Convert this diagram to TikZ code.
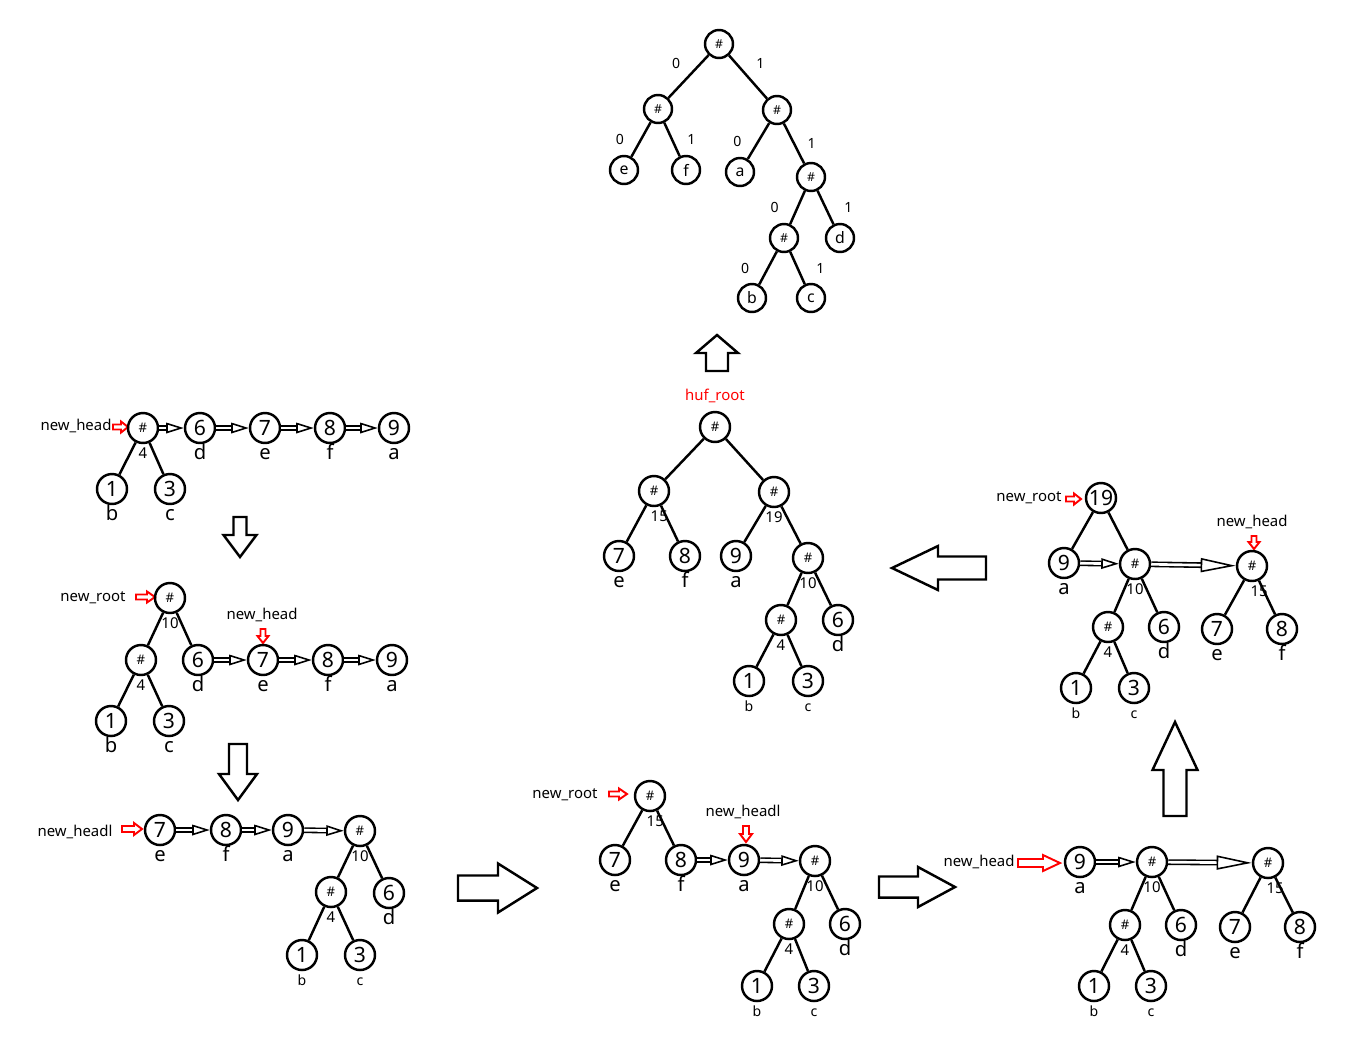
\documentclass[tikz,border=0pt]{standalone}
\usepackage{fontspec}
\setmainfont{Noto Sans}
\usetikzlibrary{arrows.meta}

\tikzset{
  nd/.style={circle, draw, line width=1.4pt, minimum size=0.6cm, inner sep=0pt,
    font=\fontsize{12}{13}\selectfont},
  hs/.style={nd, font=\fontsize{7.5}{9}\selectfont},
  sm/.style={nd, minimum size=0.56cm, font=\fontsize{9}{10}\selectfont},
  wt/.style={font=\fontsize{8.5}{9}\selectfont, inner sep=0pt, text height=6pt, text depth=0pt, yshift=-1.8pt},
  lab/.style={font=\fontsize{11.5}{12}\selectfont, inner sep=0pt, text height=8pt, text depth=2pt, yshift=-0.5pt},
  tiny/.style={font=\fontsize{8}{9}\selectfont, inner sep=0pt, text height=6pt, text depth=0pt, yshift=-2pt},
  txt/.style={font=\fontsize{8.5}{10}\selectfont, inner sep=0pt},
  bit/.style={font=\fontsize{8}{9}\selectfont, inner sep=1pt},
  edge/.style={line width=1.4pt},
  link/.style={double, double distance=1.5pt, line width=0.9pt,
    -{Triangle[open, length=10pt, width=6pt]}},
  longlink/.style={link, -{Triangle[open, length=20pt, width=8pt]}},
  big/.style={draw, line width=1.4pt, fill=white, line join=miter},
  ptr/.style={draw=red, line width=1.1pt, fill=white},
}

% hollow block arrow: style, tail, angle, length, shaft, head width, head length
\newcommand{\blockarrow}[7]{%
  \draw[#1, shift={#2}, rotate=#3] (0,-#5/2) -- ({#4-#7},-#5/2) -- ({#4-#7},-#6/2)
    -- (#4,0) -- ({#4-#7},#6/2) -- ({#4-#7},#5/2) -- (0,#5/2) -- cycle;}

\begin{document}
\begin{tikzpicture}[x=0.02cm, y=-0.02cm]
  \useasboundingbox (0,0) rectangle (1368,1042);

  % ---- step 1: list after first merge
  \node[txt] (Ahead) at (76,426) {new\_head};
  \blockarrow{ptr}{(113,427)}{0}{15}{5}{11}{7}
  \node[hs, label={[wt]below:4}] (A4) at (143,428) {\#};
  \node[nd, label={[lab]below:d}] (Ad) at (200,428) {6};
  \node[nd, label={[lab]below:e}] (Ae) at (265,428) {7};
  \node[nd, label={[lab]below:f}] (Af) at (330,428) {8};
  \node[nd, label={[lab]below:a}] (Aa) at (394,428) {9};
  \node[nd, label={[lab]below:b}] (Ab) at (112,489) {1};
  \node[nd, label={[lab]below:c}] (Ac) at (170,489) {3};
  \draw[edge] (A4) -- (Ab);
  \draw[edge] (A4) -- (Ac);
  \draw[link] (A4) -- (Ad);
  \draw[link] (Ad) -- (Ae);
  \draw[link] (Ae) -- (Af);
  \draw[link] (Af) -- (Aa);
  \blockarrow{big}{(240,517)}{-90}{40}{13}{33}{22}

  % ---- step 2
  \node[txt] (Broot) at (93,598) {new\_root};
  \blockarrow{ptr}{(136,597)}{0}{19}{5}{11}{8}
  \node[txt] (Bhead) at (262,615) {new\_head};
  \blockarrow{ptr}{(263,629)}{-90}{14}{5}{11}{7}
  \node[hs, label={[wt]below:10}] (B10) at (170,598) {\#};
  \node[hs, label={[wt]below:4}] (B4) at (141,660) {\#};
  \node[nd, label={[lab]below:d}] (Bd) at (198,660) {6};
  \node[nd, label={[lab]below:e}] (Be) at (263,660) {7};
  \node[nd, label={[lab]below:f}] (Bf) at (328,660) {8};
  \node[nd, label={[lab]below:a}] (Ba) at (392,660) {9};
  \node[nd, label={[lab]below:b}] (Bb) at (111,721) {1};
  \node[nd, label={[lab]below:c}] (Bc) at (169,721) {3};
  \draw[edge] (B10) -- (B4);
  \draw[edge] (B10) -- (Bd);
  \draw[edge] (B4) -- (Bb);
  \draw[edge] (B4) -- (Bc);
  \draw[link] (Bd) -- (Be);
  \draw[link] (Be) -- (Bf);
  \draw[link] (Bf) -- (Ba);
  \blockarrow{big}{(238,744)}{-90}{56}{18}{38}{26}

  % ---- step 3
  \node[txt] (Chead) at (75,832) {new\_headl};
  \blockarrow{ptr}{(122,829)}{0}{20}{6}{12}{8}
  \node[nd, label={[lab]below:e}] (Ce) at (160,830) {7};
  \node[nd, label={[lab]below:f}] (Cf) at (226,830) {8};
  \node[nd, label={[lab]below:a}] (Ca) at (288,830) {9};
  \node[hs, label={[wt]below:10}] (C10) at (360,831) {\#};
  \node[hs, label={[wt]below:4}] (C4) at (331,892) {\#};
  \node[nd, label={[lab]below:d}] (Cd) at (389,893) {6};
  \node[nd, label={[tiny]below:b}] (Cb) at (302,955) {1};
  \node[nd, label={[tiny]below:c}] (Cc) at (360,955) {3};
  \draw[edge] (C10) -- (C4);
  \draw[edge] (C10) -- (Cd);
  \draw[edge] (C4) -- (Cb);
  \draw[edge] (C4) -- (Cc);
  \draw[link] (Ce) -- (Cf);
  \draw[link] (Cf) -- (Ca);
  \draw[link] (Ca) -- (C10);
  \blockarrow{big}{(458,888)}{0}{79}{25}{49}{39}

  % ---- step 4
  \node[txt] (Droot) at (565,795) {new\_root};
  \blockarrow{ptr}{(609,794)}{0}{18}{5}{11}{8}
  \node[txt] (Dhead) at (743,812) {new\_headl};
  \blockarrow{ptr}{(746,826)}{-90}{16}{6}{12}{8}
  \node[hs, label={[wt, xshift=3pt]below:15}] (D15) at (650,796) {\#};
  \node[nd, label={[lab]below:e}] (De) at (615,860) {7};
  \node[nd, label={[lab]below:f}] (Df) at (681,860) {8};
  \node[nd, label={[lab]below:a}] (Da) at (744,860) {9};
  \node[hs, label={[wt]below:10}] (D10) at (815,861) {\#};
  \node[hs, label={[wt]below:4}] (D4) at (789,924) {\#};
  \node[nd, label={[lab]below:d}] (Dd) at (845,924) {6};
  \node[nd, label={[tiny]below:b}] (Db) at (757,986) {1};
  \node[nd, label={[tiny]below:c}] (Dc) at (814,986) {3};
  \draw[edge] (D15) -- (De);
  \draw[edge] (D15) -- (Df);
  \draw[edge] (D10) -- (D4);
  \draw[edge] (D10) -- (Dd);
  \draw[edge] (D4) -- (Db);
  \draw[edge] (D4) -- (Dc);
  \draw[link] (Df) -- (Da);
  \draw[link] (Da) -- (D10);
  \blockarrow{big}{(879,887)}{0}{76}{21}{40}{37}

  % ---- step 5
  \node[txt] (Ehead) at (979,862) {new\_head};
  \blockarrow{ptr}{(1018,863)}{0}{42}{8}{16}{17}
  \node[nd, label={[lab]below:a}] (Ea) at (1080,862) {9};
  \node[hs, label={[wt]below:10}] (E10) at (1152,862) {\#};
  \node[hs, label={[wt]below:4}] (E4) at (1125,925) {\#};
  \node[nd, label={[lab]below:d}] (Ed) at (1181,925) {6};
  \node[nd, label={[tiny]below:b}] (Eb) at (1094,986) {1};
  \node[nd, label={[tiny]below:c}] (Ec) at (1151,986) {3};
  \node[hs, label={[wt, xshift=4pt]below:15}] (E15) at (1268,863) {\#};
  \node[nd, label={[lab]below:e}] (Ee) at (1235,927) {7};
  \node[nd, label={[lab]below:f}] (Ef) at (1300,927) {8};
  \draw[edge] (E10) -- (E4);
  \draw[edge] (E10) -- (Ed);
  \draw[edge] (E4) -- (Eb);
  \draw[edge] (E4) -- (Ec);
  \draw[edge] (E15) -- (Ee);
  \draw[edge] (E15) -- (Ef);
  \draw[link] (Ea) -- (E10);
  \draw[longlink] (E10) -- (E15);
  \blockarrow{big}{(1175,816)}{90}{94}{23}{45}{48}

  % ---- step 6
  \node[txt] (Froot) at (1029,498) {new\_root};
  \blockarrow{ptr}{(1066,499)}{0}{15}{5}{11}{7}
  \node[txt] (Fhead) at (1252,522) {new\_head};
  \blockarrow{ptr}{(1254,536)}{-90}{13}{5}{11}{7}
  \node[nd] (F19) at (1101,498) {19};
  \node[nd, label={[lab]below:a}] (Fa) at (1064,563) {9};
  \node[hs, label={[wt]below:10}] (F10) at (1135,564) {\#};
  \node[hs, label={[wt]below:4}] (F4) at (1108,627) {\#};
  \node[nd, label={[lab]below:d}] (Fd) at (1164,627) {6};
  \node[nd, label={[tiny]below:b}] (Fb) at (1076,688) {1};
  \node[nd, label={[tiny]below:c}] (Fc) at (1134,688) {3};
  \node[hs, label={[wt, xshift=4pt]below:15}] (F15) at (1252,566) {\#};
  \node[nd, label={[lab]below:e}] (Fe) at (1217,629) {7};
  \node[nd, label={[lab]below:f}] (Ff) at (1282,629) {8};
  \draw[edge] (F19) -- (Fa);
  \draw[edge] (F19) -- (F10);
  \draw[edge] (F10) -- (F4);
  \draw[edge] (F10) -- (Fd);
  \draw[edge] (F4) -- (Fb);
  \draw[edge] (F4) -- (Fc);
  \draw[edge] (F15) -- (Fe);
  \draw[edge] (F15) -- (Ff);
  \draw[link] (Fa) -- (F10);
  \draw[longlink] (F10) -- (F15);
  \blockarrow{big}{(986,568)}{180}{94}{23}{44}{46}

  % ---- finished tree
  \node[txt, red] (Groot) at (715,396) {huf\_root};
  \node[hs] (G34) at (715,427) {\#};
  \node[hs, label={[wt, xshift=3pt]below:15}] (G15) at (654,491) {\#};
  \node[hs, label={[wt]below:19}] (G19) at (774,492) {\#};
  \node[nd, label={[lab]below:e}] (Ge) at (619,556) {7};
  \node[nd, label={[lab]below:f}] (Gf) at (685,556) {8};
  \node[nd, label={[lab]below:a}] (Ga) at (736,556) {9};
  \node[hs, label={[wt]below:10}] (G10) at (808,558) {\#};
  \node[hs, label={[wt]below:4}] (G4) at (781,620) {\#};
  \node[nd, label={[lab]below:d}] (Gd) at (838,620) {6};
  \node[nd, label={[tiny]below:b}] (Gb) at (749,681) {1};
  \node[nd, label={[tiny]below:c}] (Gc) at (808,681) {3};
  \draw[edge] (G34) -- (G15);
  \draw[edge] (G34) -- (G19);
  \draw[edge] (G15) -- (Ge);
  \draw[edge] (G15) -- (Gf);
  \draw[edge] (G19) -- (Ga);
  \draw[edge] (G19) -- (G10);
  \draw[edge] (G10) -- (G4);
  \draw[edge] (G10) -- (Gd);
  \draw[edge] (G4) -- (Gb);
  \draw[edge] (G4) -- (Gc);
  \blockarrow{big}{(717,371)}{90}{36}{22}{42}{18}

  % ---- codes 0/1
  \node[sm, font=\fontsize{7}{8}\selectfont] (Hr) at (719,44) {\#};
  \node[sm, font=\fontsize{7}{8}\selectfont] (H0) at (658,109) {\#};
  \node[sm, font=\fontsize{7}{8}\selectfont] (H1) at (777,110) {\#};
  \node[sm] (He) at (624,170) {e};
  \node[sm] (Hf) at (686,170) {f};
  \node[sm] (Ha) at (740,172) {a};
  \node[sm, font=\fontsize{7}{8}\selectfont] (H11) at (811,177) {\#};
  \node[sm, font=\fontsize{7}{8}\selectfont] (H110) at (784,238) {\#};
  \node[sm] (Hd) at (840,238) {d};
  \node[sm] (Hb) at (752,298) {b};
  \node[sm] (Hc) at (811,298) {c};
  \draw[edge] (Hr) -- node[bit, above left=3pt] {0} (H0);
  \draw[edge] (Hr) -- node[bit, above right=3pt] {1} (H1);
  \draw[edge] (H0) -- node[bit, left=8pt] {0} (He);
  \draw[edge] (H0) -- node[bit, right=7pt] {1} (Hf);
  \draw[edge] (H1) -- node[bit, left=8pt] {0} (Ha);
  \draw[edge] (H1) -- node[bit, right=6pt] {1} (H11);
  \draw[edge] (H11) -- node[bit, left=9pt] {0} (H110);
  \draw[edge] (H11) -- node[bit, right=9pt] {1} (Hd);
  \draw[edge] (H110) -- node[bit, left=9pt] {0} (Hb);
  \draw[edge] (H110) -- node[bit, right=9pt] {1} (Hc);
\end{tikzpicture}
\end{document}
